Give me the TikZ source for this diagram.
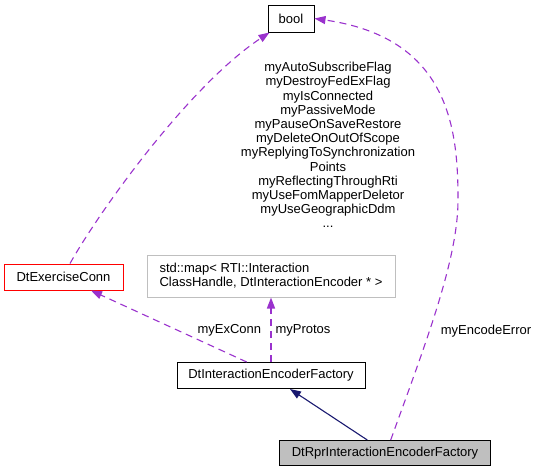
\documentclass[tikz,border=0pt]{standalone}
\usepackage{fontspec}
\setmainfont{Liberation Sans}
\usetikzlibrary{arrows.meta,positioning}
\definecolor{edgepurple}{HTML}{9A32CD}
\definecolor{edgenavy}{HTML}{191970}
\definecolor{boxgray}{HTML}{BFBFBF}
\tikzset{cls/.style = {draw=black, line width=1pt, inner sep=0pt, minimum height=26pt,
                       font=\fontsize{13}{14.2}\selectfont},
         usage/.style = {draw=edgepurple, line width=1.1pt, dash pattern=on 7pt off 5pt,
                         -{Triangle[length=11pt,width=8pt,fill=edgepurple]}},
         inherit/.style = {draw=edgenavy, line width=1.1pt,
                           -{Triangle[length=11pt,width=8pt,fill=edgenavy]}},
         lbl/.style = {font=\fontsize{13}{14.2}\selectfont, inner sep=0pt}}

\begin{document}
\begin{tikzpicture}[x=1pt, y=-1pt]
  \useasboundingbox (0,0) rectangle (535,472);
  % classes
  \node[cls, minimum width=46pt, minimum height=27pt] (boolcls) at (291,18.5) {bool};
  \node[cls, draw=red, minimum width=119pt] (exconn) at (63.5,277) {DtExerciseConn};
  \node[cls, draw=boxgray, minimum width=248pt, minimum height=42pt, align=left] (protomap) at (271,276)
    {std::map< RTI::Interaction\\ClassHandle, DtInteractionEncoder * >};
  \node[cls, minimum width=188pt] (ifactory) at (271,375.5) {DtInteractionEncoderFactory};
  \node[cls, fill=boxgray, minimum width=211pt, minimum height=25pt] (rprfactory) at (385,453)
    {DtRprInteractionEncoderFactory};
  % edges
  \draw[inherit] ([xshift=-17.7]rprfactory.north) -- ([xshift=19]ifactory.south);
  \draw[usage] ([xshift=-24.3]ifactory.north) -- ([xshift=27.5]exconn.south);
  \draw[usage, line width=1.6pt] (ifactory.north) -- (protomap.south);
  \draw[usage] ([xshift=6.5]exconn.north) .. controls (100,210) and (190,85) .. ([xshift=2]boolcls.south west);
  \draw[usage] ([xshift=5.7]rprfactory.north) .. controls (425,345) and (458,260) .. (458,200)
    .. controls (458,130) and (450,38) .. (boolcls.east);
  % labels
  \node[lbl] (exconnlbl) at (229.3,330) {myExConn};
  \node[lbl] (protoslbl) at (303,330) {myProtos};
  \node[lbl] (encerrlbl) at (486,331) {myEncodeError};
  \node[lbl, align=center] (flagslbl) at (328,145)
    {myAutoSubscribeFlag\\myDestroyFedExFlag\\myIsConnected\\myPassiveMode\\myPauseOnSaveRestore\\
     myDeleteOnOutOfScope\\myReplyingToSynchronization\\Points\\myReflectingThroughRti\\
     myUseFomMapperDeletor\\myUseGeographicDdm\\...};
\end{tikzpicture}
\end{document}
